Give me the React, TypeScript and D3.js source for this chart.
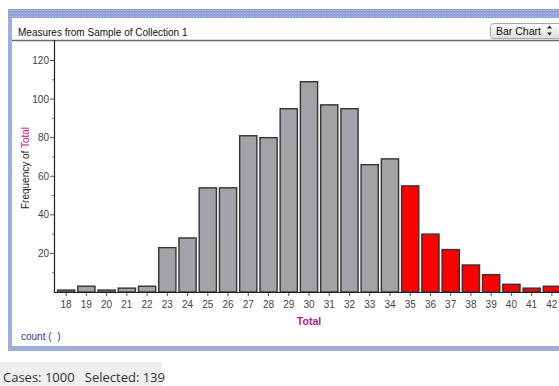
import React from "react";
import * as d3 from "d3";

const categories = ["18","19","20","21","22","23","24","25","26","27","28","29","30","31","32","33","34","35","36","37","38","39","40","41","42"];
const counts = [1,3,1,2,3,23,28,54,54,81,80,95,109,97,95,66,69,55,30,22,14,9,4,2,3];
const selectedFrom = "35";
const yTicks = [20,40,60,80,100,120];
const yMinorTicks = [10,30,50,70,90,110];
const titleText = "Measures from Sample of Collection 1";
const yLabelA = "Frequency of ";
const yLabelB = "Total";
const xLabel = "Total";
const statusText = "Cases: 1000   Selected: 139";

export default function App() {
  const W = 559, H = 386;
  const x = d3.scaleBand<string>().domain(categories).range([56, 562]).paddingInner(0.15).paddingOuter(0.075);
  const y = d3.scaleLinear().domain([0, 130]).range([292, 41.2]);
  const selIdx = categories.indexOf(selectedFrom);
  const font = "'Liberation Sans', Arial, sans-serif";
  return (
    <div style={{ position: "absolute", left: 0, top: 0 }}>
      <svg width={W} height={H} style={{ display: "block" }} fontFamily={font}>
        <defs>
          <pattern id="dots" width="3" height="3" patternUnits="userSpaceOnUse">
            <rect width="3" height="3" fill="#93a3da" />
            <rect x="1" y="1" width="1" height="1" fill="#b9c4ec" />
          </pattern>
          <linearGradient id="btn" x1="0" y1="0" x2="0" y2="1">
            <stop offset="0" stopColor="#fdfdfd" />
            <stop offset="1" stopColor="#dedede" />
          </linearGradient>
        </defs>
        <rect width={W} height={H} fill="#fff" />
        {/* frame */}
        <rect x={8} y={9} width={W} height={342} fill="#9eaddf" />
        <rect x={8} y={9} width={W} height={9} fill="url(#dots)" />
        <rect x={12} y={18} width={W} height={328} fill="#fff" />
        <text x={18} y={36} fontSize={10} fill="#111">{titleText}</text>
        <line x1={12} x2={W} y1={40.5} y2={40.5} stroke="#6b6b6b" strokeWidth={1.5} />
        {/* dropdown */}
        <rect x={490.5} y={23.5} width={80} height={15} rx={3} fill="url(#btn)" stroke="#a8a8a8" />
        <text x={496} y={35} fontSize={10.5} fill="#111">Bar Chart</text>
        <path d="M547,28.5 l2.5,-3 l2.5,3 z M547,32.5 l2.5,3 l2.5,-3 z" fill="#222" />
        {/* y axis */}
        <line x1={54.5} x2={54.5} y1={40} y2={293} stroke="#222" strokeWidth={1.2} />
        {yTicks.map((t) => (
          <g key={t}>
            <line x1={50} x2={54} y1={y(t)} y2={y(t)} stroke="#555" />
            <text x={49} y={y(t) + 3.5} fontSize={10} textAnchor="end" fill="#444">{t}</text>
          </g>
        ))}
        {yMinorTicks.map((t) => (
          <line key={t} x1={52} x2={54} y1={y(t)} y2={y(t)} stroke="#777" />
        ))}
        <text transform={`translate(29,${168}) rotate(-90)`} fontSize={10} textAnchor="middle" fill="#222">
          {yLabelA}<tspan fill="#b5178a">{yLabelB}</tspan>
        </text>
        {/* bars */}
        {categories.map((c, i) => (
          <rect key={c} x={x(c)} y={y(counts[i])} width={x.bandwidth()} height={y(0) - y(counts[i])}
            fill={i >= selIdx ? "#ff0000" : "#a3a3a7"} stroke="#333" strokeWidth={1.4} />
        ))}
        {/* x axis baseline */}
        <line x1={54} x2={W} y1={292.5} y2={292.5} stroke="#222" strokeWidth={1.2} />
        {categories.map((c) => (
          <g key={c}>
            <line x1={x(c)! + x.bandwidth() / 2} x2={x(c)! + x.bandwidth() / 2} y1={293} y2={296} stroke="#555" />
            <text x={x(c)! + x.bandwidth() / 2} y={308} fontSize={10} textAnchor="middle" fill="#444">{c}</text>
          </g>
        ))}
        <text x={309} y={325} fontSize={10.5} fontWeight="bold" textAnchor="middle" fill="#b5178a">{xLabel}</text>
        <text x={21} y={340} fontSize={10} fill="#3333b0" style={{ whiteSpace: "pre" }}>{"count (  )"}</text>
        {/* status */}
        <rect x={0} y={362} width={162} height={24} fill="#efefef" />
        <text x={3} y={382} fontSize={13} fill="#333" fontFamily="'Open Sans', 'Noto Sans', sans-serif" style={{ whiteSpace: "pre" }}>{statusText}</text>
      </svg>
    </div>
  );
}
